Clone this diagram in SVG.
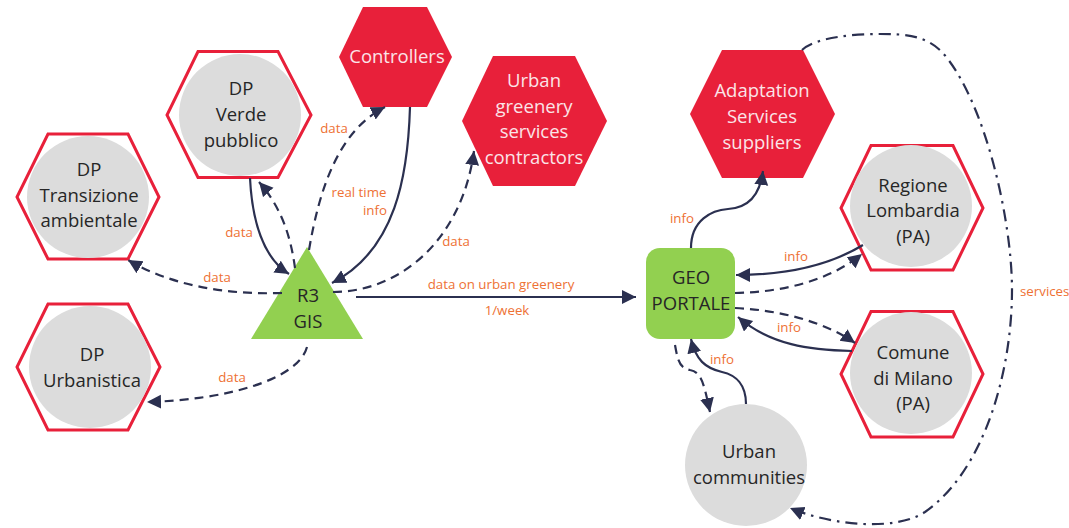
<svg xmlns="http://www.w3.org/2000/svg" width="1069" height="528" viewBox="0 0 1069 528">
<style>
.t{font-family:"Open Sans","Noto Sans",sans-serif;font-size:18.5px;text-anchor:middle;fill:#262626}
.w{fill:#fbe4e8}
.l{font-family:"Open Sans","Noto Sans",sans-serif;font-size:13.3px;text-anchor:middle;fill:#ee7134}
.hx{fill:#fff;stroke:#e8203a;stroke-width:3}
.hf{fill:#e8203a}
.c{fill:#dcdcdc}
.g{fill:#92d050}
#connectors path{fill:none;stroke:#2b3050;stroke-width:2.2;marker-end:url(#a)}
#connectors .d{stroke-dasharray:9 6}
#connectors .dd{stroke-dasharray:12 6 2.500 6}
</style>
<defs><marker id="a" markerUnits="userSpaceOnUse" markerWidth="15" markerHeight="15" refX="14" refY="7" orient="auto"><path d="M0 0L14 7L0 14z" fill="#2b3050"/></marker></defs>
<rect width="1069" height="528" fill="#fff"/>
<g id="n-verde"><polygon class="hx" points="198,51.500 278,51.500 311,115 278,177.500 198,177.500 167,115"/><circle class="c" cx="240" cy="115" r="61"/><text class="t" x="241" y="95">DP</text><text class="t" x="241" y="121">Verde</text><text class="t" x="241" y="147">pubblico</text></g>
<g id="n-transizione"><polygon class="hx" points="48,134 128,134 159,197 128,259 48,259 17,197"/><circle class="c" cx="88" cy="197" r="61"/><text class="t" x="89" y="176">DP</text><text class="t" x="89" y="202">Transizione</text><text class="t" x="89" y="227">ambientale</text></g>
<g id="n-urbanistica"><polygon class="hx" points="48,304 128,304 160,367 128,430 48,430 17,367"/><circle class="c" cx="90" cy="367" r="61"/><text class="t" x="92" y="361">DP</text><text class="t" x="92" y="387">Urbanistica</text></g>
<g id="n-controllers"><polygon class="hf" points="363,7 427,7 452,57 427,107 363,107 339,57"/><text class="t w" x="397" y="63">Controllers</text></g>
<g id="n-contractors"><polygon class="hf" points="493,56 575,56 607,121 575,186 493,186 462,121"/><text class="t w" x="534" y="87">Urban</text><text class="t w" x="534" y="113">greenery</text><text class="t w" x="534" y="138">services</text><text class="t w" x="534" y="164">contractors</text></g>
<g id="n-adaptation"><polygon class="hf" points="722,50 803,50 835,114 803,178 722,178 690,114"/><text class="t w" x="762" y="97">Adaptation</text><text class="t w" x="762" y="123">Services</text><text class="t w" x="762" y="149">suppliers</text></g>
<g id="n-regione"><polygon class="hx" points="871,145.500 953,145.500 983,208 953,270 871,270 841,208"/><circle class="c" cx="911" cy="206" r="61"/><text class="t" x="913" y="192">Regione</text><text class="t" x="913" y="217">Lombardia</text><text class="t" x="913" y="243">(PA)</text></g>
<g id="n-comune"><polygon class="hx" points="871,311.500 953,311.500 983,374 953,437 871,437 841,374"/><circle class="c" cx="911" cy="373" r="61"/><text class="t" x="913" y="359">Comune</text><text class="t" x="913" y="385">di Milano</text><text class="t" x="913" y="410">(PA)</text></g>
<g id="n-communities"><circle class="c" cx="746" cy="465" r="61"/><text class="t" x="749" y="458">Urban</text><text class="t" x="749" y="484">communities</text></g>
<g id="n-geo"><rect class="g" x="646" y="248" width="89" height="91" rx="14"/><text class="t" x="691" y="284">GEO</text><text class="t" x="691" y="310">PORTALE</text></g>
<g id="n-r3"><polygon class="g" points="307,247 363,339 251,339"/><text class="t" x="308" y="302">R3</text><text class="t" x="308" y="328">GIS</text></g>
<g id="connectors">
<path class="d" d="M295 268C291 238 282 208 259 182"/>
<path d="M250 178C252 220 263 258 289 274"/>
<path class="d" d="M309 250C320 185 340 130 385 107"/>
<path d="M410 107C408 175 396 250 332 283"/>
<path class="d" d="M333 292C400 292 462 240 474 151"/>
<path class="d" d="M282 293C225 295 170 285 128 260"/>
<path class="d" d="M307 347C298 380 225 400 147 402"/>
<path d="M356 297H636"/>
<path d="M691 248C691 220 712 210 728 209C748 208 760 195 763 171"/>
<path d="M863 245C830 265 790 275 736 275"/>
<path class="d" d="M735 293C785 292 830 280 862 254"/>
<path class="d" d="M735 308C780 310 825 322 855 343"/>
<path d="M852 351C810 350 770 345 738 317"/>
<path d="M746 404C746 385 736 375 722 372C705 368 696 360 691 339"/>
<path class="d" d="M675 345C678 362 680 368 690 370C702 372 704 385 710 412"/>
<path class="dd" d="M802 50C815 38 850 34 880 34C905 34 925 35 942 52C985 100 1012 220 1012 290C1012 370 985 470 925 512C895 532 830 525 790 508"/>
</g>
<g id="labels">
<text class="l" x="239" y="237">data</text><text class="l" x="217" y="282">data</text><text class="l" x="334" y="133">data</text><text class="l" x="359" y="197">real time</text><text class="l" x="375" y="215">info</text><text class="l" x="456" y="246">data</text><text class="l" x="501" y="289">data on urban greenery</text><text class="l" x="507" y="315">1/week</text><text class="l" x="232" y="382">data</text><text class="l" x="682" y="223">info</text><text class="l" x="796" y="261">info</text><text class="l" x="789" y="332">info</text><text class="l" x="722" y="364">info</text><text class="l" x="1020" y="296" style="text-anchor:start">services</text>
</g>
</svg>
